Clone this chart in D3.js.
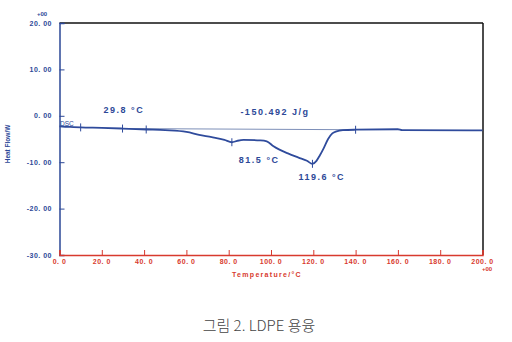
<!DOCTYPE html>
<html>
<head>
<meta charset="utf-8">
<script src="https://cdn.jsdelivr.net/npm/d3@7"></script>
<style>
  html, body { margin: 0; padding: 0; background: #fff; }
  svg { display: block; }
</style>
</head>
<body>
<svg id="chart" width="512" height="342"></svg>
<script>
// DSC melting curve of LDPE: temperature (°C) vs heat flow (mW)
const temperature = [0, 5, 10, 20, 29.8, 41, 50, 60, 66, 72, 78, 81.5, 84, 87, 95, 98, 101, 104, 108, 113, 117, 119.6, 121.5, 123, 125, 127, 129, 131, 134, 140, 160, 162, 200];
const heatFlow    = [-2.3, -2.4, -2.5, -2.6, -2.75, -2.95, -3.1, -3.45, -4.1, -4.6, -5.2, -5.7, -5.4, -5.2, -5.3, -5.5, -6.5, -7.3, -8.1, -9.0, -9.7, -10.35, -9.7, -8.6, -6.9, -5.0, -3.8, -3.35, -3.1, -3.0, -2.9, -3.1, -3.15];

// integration baseline end points
const baselineT = [29.8, 140];
const baselineH = [-2.75, -3.0];

// small marker ticks placed on the curve
const markerT = [10, 29.8, 41, 81.5, 119.6, 140];

const xTicks = [0, 20, 40, 60, 80, 100, 120, 140, 160, 180, 200];
const yTicks = [20, 10, 0, -10, -20, -30];

const annotations = [
  { text: "29.8 °C", t: 29.8, h: -2.75, dx: -19, dy: -16 },
  { text: "-150.492 J/g", t: 86, h: -3.0, dx: -1, dy: -15 },
  { text: "81.5 °C", t: 81.5, h: -5.7, dx: 7, dy: 21 },
  { text: "119.6 °C", t: 119.6, h: -10.35, dx: -14, dy: 16 }
];

const svg = d3.select("#chart");
const plotLeft = 59.5, plotRight = 482.5, plotTop = 23, plotBottom = 255;

const x = d3.scaleLinear().domain([0, 200]).range([plotLeft, plotRight]);
const y = d3.scaleLinear().domain([-30, 20]).range([plotBottom, plotTop]);

const blue = "#2c4897", red = "#d83a2e";
const tickFont = "'Liberation Sans', Arial, sans-serif";

// frame: black top and right
svg.append("line").attr("x1", plotLeft).attr("x2", plotRight + 0.5).attr("y1", plotTop).attr("y2", plotTop)
  .attr("stroke", "#111").attr("stroke-width", 1.5);
svg.append("line").attr("x1", plotRight + 0.5).attr("x2", plotRight + 0.5).attr("y1", plotTop).attr("y2", plotBottom)
  .attr("stroke", "#111").attr("stroke-width", 1.5);

// y axis (blue, ticks inward)
const yAxis = svg.append("g").attr("transform", `translate(${plotLeft},0)`)
  .call(d3.axisRight(y).tickValues(yTicks).tickSize(5).tickFormat(""));
yAxis.select(".domain").attr("stroke", blue).attr("stroke-width", 1.5);
yAxis.selectAll(".tick line").attr("stroke", blue).attr("stroke-width", 1);
svg.append("g").selectAll("text").data(yTicks).join("text")
  .attr("x", 52).attr("y", d => y(d) + 2.5)
  .attr("text-anchor", "end")
  .attr("font-family", tickFont).attr("font-weight", "bold").attr("font-size", 7)
  .attr("fill", blue).attr("letter-spacing", 0.5)
  .text(d => d3.format(".2f")(d).replace("−", "-").replace(".", ". "));
svg.append("text").attr("x", 42).attr("y", 16).attr("text-anchor", "middle")
  .attr("font-family", tickFont).attr("font-weight", "bold").attr("font-size", 6)
  .attr("fill", blue).text("+00");

// x axis (red, ticks inward)
const xAxis = svg.append("g").attr("transform", `translate(0,${plotBottom})`)
  .call(d3.axisTop(x).tickValues(xTicks).tickSize(5).tickFormat(""));
xAxis.select(".domain").attr("stroke", red).attr("stroke-width", 1.5);
xAxis.selectAll(".tick line").attr("stroke", red).attr("stroke-width", 1);
svg.append("g").selectAll("text").data(xTicks).join("text")
  .attr("x", d => x(d)).attr("y", 264)
  .attr("text-anchor", "middle")
  .attr("font-family", tickFont).attr("font-weight", "bold").attr("font-size", 7)
  .attr("fill", red).attr("letter-spacing", 0.5)
  .text(d => d3.format(".1f")(d).replace(".", ". "));
svg.append("text").attr("x", 487).attr("y", 271).attr("text-anchor", "middle")
  .attr("font-family", tickFont).attr("font-weight", "bold").attr("font-size", 6)
  .attr("fill", red).text("+00");

// axis titles
svg.append("text").attr("x", 267).attr("y", 277).attr("text-anchor", "middle")
  .attr("font-family", tickFont).attr("font-weight", "bold").attr("font-size", 7)
  .attr("fill", red).attr("letter-spacing", 1.3).text("Temperature/°C");
svg.append("text").attr("transform", "translate(10,144) rotate(-90)").attr("text-anchor", "middle")
  .attr("font-family", tickFont).attr("font-weight", "bold").attr("font-size", 6.5)
  .attr("fill", blue).text("Heat Flow/W");

// baseline
svg.append("line")
  .attr("x1", x(baselineT[0])).attr("y1", y(baselineH[0]))
  .attr("x2", x(baselineT[1])).attr("y2", y(baselineH[1]))
  .attr("stroke", "#7d8fb8").attr("stroke-width", 1);

// curve
const pts = temperature.map((t, i) => [t, heatFlow[i]]);
const line = d3.line().x(d => x(d[0])).y(d => y(d[1])).curve(d3.curveMonotoneX);
svg.append("path").datum(pts).attr("d", line)
  .attr("fill", "none").attr("stroke", "#2f4b9c").attr("stroke-width", 1.8);

// marker ticks
const interp = t => {
  const i = d3.bisectLeft(temperature, t);
  if (temperature[i] === t) return heatFlow[i];
  const t0 = temperature[i - 1], t1 = temperature[i];
  return heatFlow[i - 1] + (heatFlow[i] - heatFlow[i - 1]) * (t - t0) / (t1 - t0);
};
svg.append("g").selectAll("line").data(markerT).join("line")
  .attr("x1", d => x(d)).attr("x2", d => x(d))
  .attr("y1", d => y(interp(d)) - 4).attr("y2", d => y(interp(d)) + 4)
  .attr("stroke", "#2f4b9c").attr("stroke-width", 1);

// DSC label
svg.append("text").attr("x", 60).attr("y", 126)
  .attr("font-family", tickFont).attr("font-size", 6.5).attr("fill", blue).text("DSC");

// annotations
svg.append("g").selectAll("text").data(annotations).join("text")
  .attr("x", d => x(d.t) + d.dx).attr("y", d => y(d.h) + d.dy)
  .attr("font-family", tickFont).attr("font-weight", "bold").attr("font-size", 9)
  .attr("letter-spacing", 1.5).attr("fill", "#2c4897")
  .text(d => d.text);

// caption
svg.append("text").attr("x", 259).attr("y", 331).attr("text-anchor", "middle")
  .attr("font-family", "'Noto Sans CJK KR', sans-serif").attr("font-weight", 300).attr("font-size", 15)
  .attr("fill", "#444").text("그림 2. LDPE 용융");
</script>
</body>
</html>
